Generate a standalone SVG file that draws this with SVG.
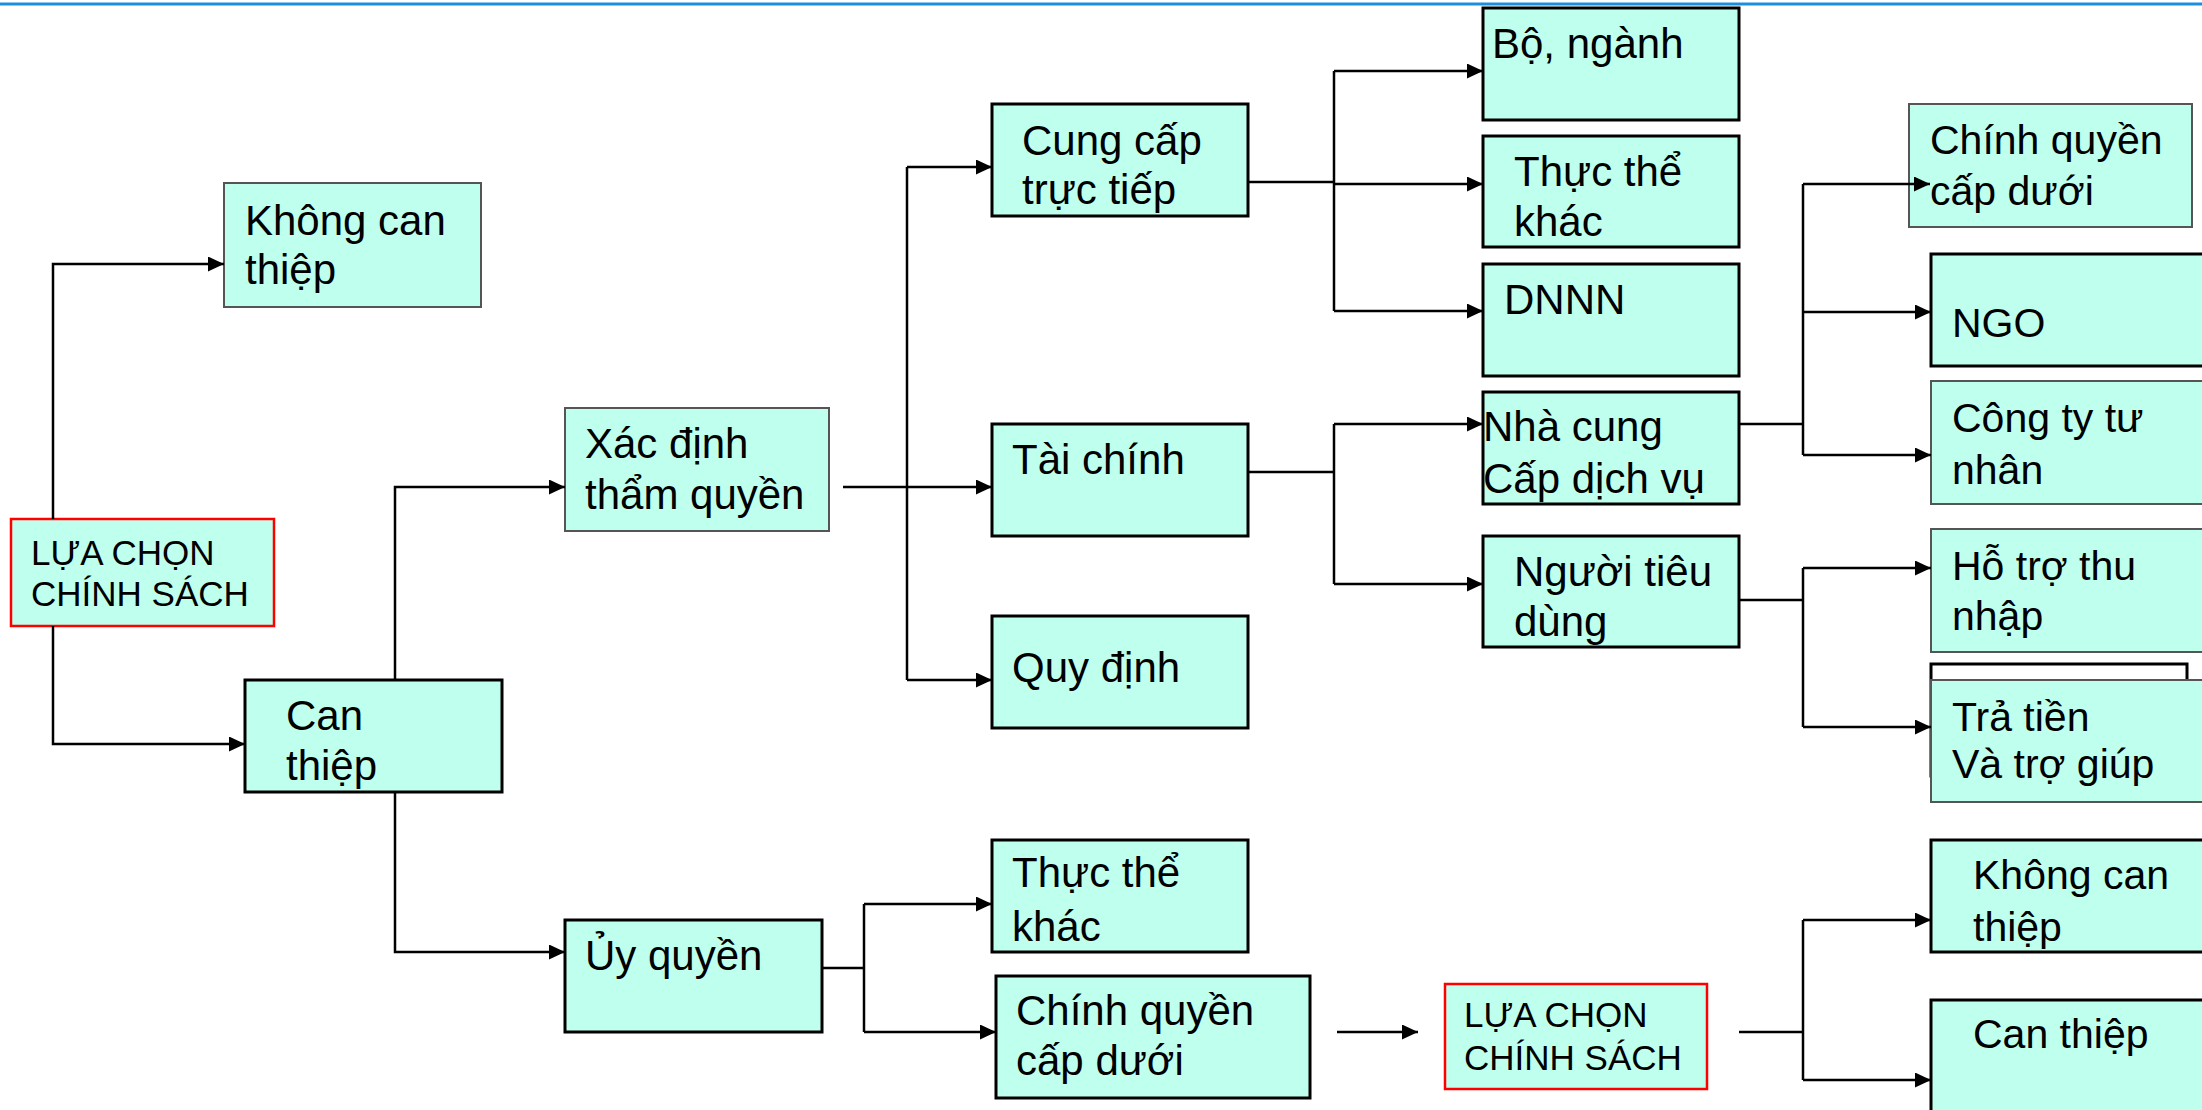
<svg xmlns="http://www.w3.org/2000/svg" width="2202" height="1110" viewBox="0 0 2202 1110">
<style>
.n{fill:#BFFFEE;stroke:#000;stroke-width:3}
.g{fill:#BFFFEE;stroke:#555;stroke-width:2}
.r{fill:#BFFFEE;stroke:#FF0000;stroke-width:2.5}
.w{fill:#FFFFFF;stroke:#000;stroke-width:3}
text{font-family:"Liberation Sans",Arial,sans-serif;font-size:42px;fill:#000}
.s{font-size:35px}
.t{font-size:41px}
.c{fill:none;stroke:#000;stroke-width:2.5}
</style>
<defs>
<marker id="ah" markerUnits="userSpaceOnUse" markerWidth="17" markerHeight="16" refX="16" refY="7.5" orient="auto">
<path d="M0,0 L16,7.5 L0,15 z" fill="#000"/>
</marker>
</defs>
<rect x="0" y="0" width="2202" height="1110" fill="#FFFFFF"/>
<line x1="0" y1="4" x2="2202" y2="4" stroke="#1A8FE0" stroke-width="3"/>

<g id="lua1"><rect class="r" x="11" y="519" width="263" height="107"/><text class="s" x="31" y="565">LỰA CHỌN</text><text class="s" x="31" y="606">CHÍNH SÁCH</text></g>
<g id="khong1"><rect class="g" x="224" y="183" width="257" height="124"/><text x="245" y="235">Không can</text><text x="245" y="284">thiệp</text></g>
<g id="can1"><rect class="n" x="245" y="680" width="257" height="112"/><text x="286" y="730">Can</text><text x="286" y="780">thiệp</text></g>
<g id="xacdinh"><rect class="g" x="565" y="408" width="264" height="123"/><text x="585" y="458">Xác định</text><text x="585" y="509">thẩm quyền</text></g>
<g id="uyquyen"><rect class="n" x="565" y="920" width="257" height="112"/><text x="585" y="970">Ủy quyền</text></g>
<g id="cungcap"><rect class="n" x="992" y="104" width="256" height="112"/><text x="1022" y="155">Cung cấp</text><text x="1022" y="204">trực tiếp</text></g>
<g id="taichinh"><rect class="n" x="992" y="424" width="256" height="112"/><text x="1012" y="474">Tài chính</text></g>
<g id="quydinh"><rect class="n" x="992" y="616" width="256" height="112"/><text x="1012" y="682">Quy định</text></g>
<g id="thucthe2"><rect class="n" x="992" y="840" width="256" height="112"/><text x="1012" y="887">Thực thể</text><text x="1012" y="941">khác</text></g>
<g id="chinhquyen2"><rect class="n" x="996" y="976" width="314" height="122"/><text x="1016" y="1025">Chính quyền</text><text x="1016" y="1075">cấp dưới</text></g>
<g id="lua2"><rect class="r" x="1445" y="984" width="262" height="105"/><text class="s" x="1464" y="1027">LỰA CHỌN</text><text class="s" x="1464" y="1070">CHÍNH SÁCH</text></g>
<g id="bonganh"><rect class="n" x="1483" y="8" width="256" height="112"/><text x="1492" y="58">Bộ, ngành</text></g>
<g id="thucthe1"><rect class="n" x="1483" y="136" width="256" height="111"/><text x="1514" y="186">Thực thể</text><text x="1514" y="236">khác</text></g>
<g id="dnnn"><rect class="n" x="1483" y="264" width="256" height="112"/><text x="1504" y="314">DNNN</text></g>
<g id="nhacung"><rect class="n" x="1483" y="392" width="256" height="112"/><text x="1483" y="441">Nhà cung</text><text x="1483" y="493">Cấp dịch vụ</text></g>
<g id="nguoitieu"><rect class="n" x="1483" y="536" width="256" height="111"/><text x="1514" y="586">Người tiêu</text><text x="1514" y="636">dùng</text></g>
<g id="chinhquyen1"><rect class="g" x="1909" y="104" width="283" height="123"/><text class="t" x="1930" y="154">Chính quyền</text><text class="t" x="1930" y="205">cấp dưới</text></g>
<g id="ngo"><rect class="n" x="1931" y="254" width="290" height="112"/><text class="t" x="1952" y="337">NGO</text></g>
<g id="congty"><rect class="g" x="1931" y="381" width="290" height="123"/><text class="t" x="1952" y="432">Công ty tư</text><text class="t" x="1952" y="484">nhân</text></g>
<g id="hotro"><rect class="g" x="1931" y="529" width="290" height="123"/><text class="t" x="1952" y="580">Hỗ trợ thu</text><text class="t" x="1952" y="630">nhập</text></g>
<g id="blank"><rect class="w" x="1931" y="664" width="256" height="112"/></g>
<g id="tratien"><rect class="g" x="1931" y="680" width="290" height="122"/><text class="t" x="1952" y="731">Trả tiền</text><text class="t" x="1952" y="778">Và trợ giúp</text></g>
<g id="khong2"><rect class="n" x="1931" y="840" width="290" height="112"/><text class="t" x="1973" y="889">Không can</text><text class="t" x="1973" y="941">thiệp</text></g>
<g id="can2"><rect class="n" x="1931" y="1000" width="290" height="130"/><text class="t" x="1973" y="1048">Can thiệp</text></g>

<g id="connectors">
<path class="c" d="M53,519 V264 H224" marker-end="url(#ah)"/>
<path class="c" d="M53,626 V744 H245" marker-end="url(#ah)"/>
<path class="c" d="M395,680 V487 H565" marker-end="url(#ah)"/>
<path class="c" d="M395,792 V952 H565" marker-end="url(#ah)"/>
<path class="c" d="M843,487 H992" marker-end="url(#ah)"/>
<path class="c" d="M907,167 V680"/>
<path class="c" d="M907,167 H992" marker-end="url(#ah)"/>
<path class="c" d="M907,680 H992" marker-end="url(#ah)"/>
<path class="c" d="M1248,182 H1334"/>
<path class="c" d="M1334,71 V311"/>
<path class="c" d="M1334,71 H1483" marker-end="url(#ah)"/>
<path class="c" d="M1334,184 H1483" marker-end="url(#ah)"/>
<path class="c" d="M1334,311 H1483" marker-end="url(#ah)"/>
<path class="c" d="M1248,472 H1334"/>
<path class="c" d="M1334,424 V584"/>
<path class="c" d="M1334,424 H1483" marker-end="url(#ah)"/>
<path class="c" d="M1334,584 H1483" marker-end="url(#ah)"/>
<path class="c" d="M1739,424 H1803"/>
<path class="c" d="M1803,184 V455"/>
<path class="c" d="M1803,184 H1930" marker-end="url(#ah)"/>
<path class="c" d="M1803,312 H1931" marker-end="url(#ah)"/>
<path class="c" d="M1803,455 H1931" marker-end="url(#ah)"/>
<path class="c" d="M1739,600 H1803"/>
<path class="c" d="M1803,568 V727"/>
<path class="c" d="M1803,568 H1931" marker-end="url(#ah)"/>
<path class="c" d="M1803,727 H1931" marker-end="url(#ah)"/>
<path class="c" d="M822,968 H864"/>
<path class="c" d="M864,904 V1032"/>
<path class="c" d="M864,904 H992" marker-end="url(#ah)"/>
<path class="c" d="M864,1032 H996" marker-end="url(#ah)"/>
<path class="c" d="M1337,1032 H1418" marker-end="url(#ah)"/>
<path class="c" d="M1739,1032 H1803"/>
<path class="c" d="M1803,920 V1080"/>
<path class="c" d="M1803,920 H1931" marker-end="url(#ah)"/>
<path class="c" d="M1803,1080 H1931" marker-end="url(#ah)"/>
</g>
</svg>
